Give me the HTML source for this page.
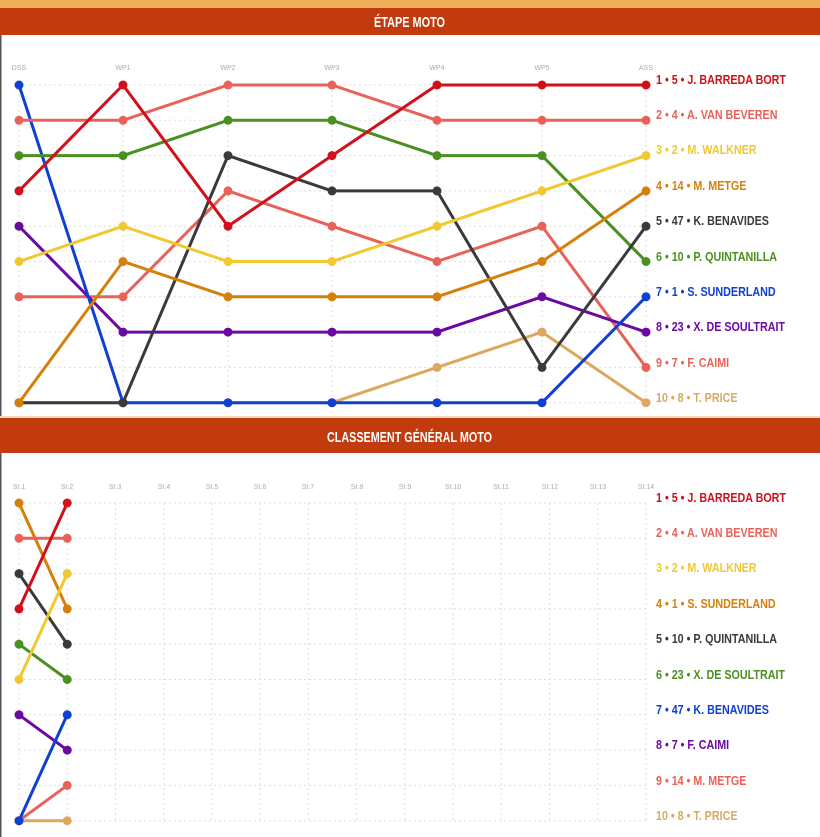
<!DOCTYPE html>
<html><head><meta charset="utf-8"><style>
body{margin:0;width:820px;height:837px;overflow:hidden;background:#fff;font-family:"Liberation Sans",sans-serif}
svg{position:absolute;left:0;top:0}
.h{font-family:"Liberation Sans",sans-serif;font-weight:bold;fill:#fff;font-size:15px}
.ax{font-size:7px;fill:#aaa}
.lb{font-size:12.5px;font-weight:bold}
</style></head><body>
<svg id="s" width="820" height="837" xmlns="http://www.w3.org/2000/svg">
<rect x="0" y="0" width="820" height="8" fill="#f0ae58"/>
<rect x="0" y="8" width="820" height="27" fill="#c13b0f"/>
<text class="h" x="374" y="27" textLength="71" lengthAdjust="spacingAndGlyphs">ÉTAPE MOTO</text>
<rect x="0" y="416" width="820" height="2" fill="#f0d8c0"/>
<rect x="0" y="418" width="820" height="35" fill="#c13b0f"/>
<text class="h" x="327" y="442" textLength="165" lengthAdjust="spacingAndGlyphs">CLASSEMENT GÉNÉRAL MOTO</text>
<rect x="0" y="35" width="1.5" height="381" fill="#555"/>
<rect x="0" y="453" width="1.5" height="384" fill="#555"/>
<g id="g1"></g><g id="g2"></g>
<g class="ax">
<text x="19" y="70" text-anchor="middle">DSS</text><text x="123" y="70" text-anchor="middle">WP1</text><text x="228" y="70" text-anchor="middle">WP2</text><text x="332" y="70" text-anchor="middle">WP3</text><text x="437" y="70" text-anchor="middle">WP4</text><text x="542" y="70" text-anchor="middle">WP5</text><text x="646" y="70" text-anchor="middle">ASS</text>
<text x="19" y="489" text-anchor="middle">St.1</text><text x="67" y="489" text-anchor="middle">St.2</text><text x="115" y="489" text-anchor="middle">St.3</text><text x="164" y="489" text-anchor="middle">St.4</text><text x="212" y="489" text-anchor="middle">St.5</text><text x="260" y="489" text-anchor="middle">St.6</text><text x="308" y="489" text-anchor="middle">St.7</text><text x="357" y="489" text-anchor="middle">St.8</text><text x="405" y="489" text-anchor="middle">St.9</text><text x="453" y="489" text-anchor="middle">St.10</text><text x="501" y="489" text-anchor="middle">St.11</text><text x="550" y="489" text-anchor="middle">St.12</text><text x="598" y="489" text-anchor="middle">St.13</text><text x="646" y="489" text-anchor="middle">St.14</text>
</g>
<g class="lb" transform="translate(656,0) scale(0.86,1)">
<text x="0" y="84" fill="#d0101a">1 • 5 • J. BARREDA BORT</text>
<text x="0" y="119" fill="#e8625a">2 • 4 • A. VAN BEVEREN</text>
<text x="0" y="154" fill="#f0c832">3 • 2 • M. WALKNER</text>
<text x="0" y="190" fill="#d4800a">4 • 14 • M. METGE</text>
<text x="0" y="225" fill="#3a3a3a">5 • 47 • K. BENAVIDES</text>
<text x="0" y="261" fill="#4a9020">6 • 10 • P. QUINTANILLA</text>
<text x="0" y="296" fill="#1040d0">7 • 1 • S. SUNDERLAND</text>
<text x="0" y="331" fill="#6a0aa0">8 • 23 • X. DE SOULTRAIT</text>
<text x="0" y="367" fill="#e8625a">9 • 7 • F. CAIMI</text>
<text x="0" y="402" fill="#dca860">10 • 8 • T. PRICE</text>
<text x="0" y="502" fill="#d0101a">1 • 5 • J. BARREDA BORT</text>
<text x="0" y="537" fill="#e8625a">2 • 4 • A. VAN BEVEREN</text>
<text x="0" y="572" fill="#f0c832">3 • 2 • M. WALKNER</text>
<text x="0" y="608" fill="#d4800a">4 • 1 • S. SUNDERLAND</text>
<text x="0" y="643" fill="#3a3a3a">5 • 10 • P. QUINTANILLA</text>
<text x="0" y="679" fill="#4a9020">6 • 23 • X. DE SOULTRAIT</text>
<text x="0" y="714" fill="#1040d0">7 • 47 • K. BENAVIDES</text>
<text x="0" y="749" fill="#6a0aa0">8 • 7 • F. CAIMI</text>
<text x="0" y="785" fill="#e8625a">9 • 14 • M. METGE</text>
<text x="0" y="820" fill="#dca860">10 • 8 • T. PRICE</text>
</g>
</svg>
<script>
var NS="http://www.w3.org/2000/svg";
function el(p,t,a){var e=document.createElementNS(NS,t);for(var k in a)e.setAttribute(k,a[k]);p.appendChild(e);return e;}
function chart(g,xs,y0,step,series){
 var grid={stroke:"#ddd","stroke-width":1,"stroke-dasharray":"2,3"};
 for(var r=0;r<10;r++){var y=y0+r*step;el(g,"line",Object.assign({x1:xs[0],x2:xs[xs.length-1],y1:y,y2:y},grid));}
 xs.forEach(function(x){el(g,"line",Object.assign({x1:x,x2:x,y1:y0,y2:y0+9*step},grid));});
 series.forEach(function(s){
  var pts=s[1].map(function(r,i){return xs[i]+","+(y0+(r-1)*step);}).join(" ");
  el(g,"polyline",{points:pts,fill:"none",stroke:s[0],"stroke-width":3,"stroke-linejoin":"round"});
  s[1].forEach(function(r,i){el(g,"circle",{cx:xs[i],cy:y0+(r-1)*step,r:4.5,fill:s[0]});});
 });
}
var x1=[19,123,228,332,437,542,646];
chart(document.getElementById("g1"),x1,85,35.3,[
["#dca860",[10,10,10,10,9,8,10]],
["#e8625a",[7,7,4,5,6,5,9]],
["#6a0aa0",[5,8,8,8,8,7,8]],
["#1040d0",[1,10,10,10,10,10,7]],
["#4a9020",[3,3,2,2,3,3,6]],
["#3a3a3a",[10,10,3,4,4,9,5]],
["#d4800a",[10,6,7,7,7,6,4]],
["#f0c832",[6,5,6,6,5,4,3]],
["#e8625a",[2,2,1,1,2,2,2]],
["#d0101a",[4,1,5,3,1,1,1]]]);
var x2=[];for(var i=0;i<14;i++)x2.push(19+i*48.23);
var g2=document.getElementById("g2");
var s2=[
["#dca860",[10,10]],["#e8625a",[10,9]],["#6a0aa0",[7,8]],["#1040d0",[10,7]],["#4a9020",[5,6]],
["#3a3a3a",[3,5]],["#d4800a",[1,4]],["#f0c832",[6,3]],["#e8625a",[2,2]],["#d0101a",[4,1]]];
chart(g2,x2,503,35.3,[]);
s2.forEach(function(s){var pts=s[1].map(function(r,i){return x2[i]+","+(503+(r-1)*35.3);}).join(" ");
 el(g2,"polyline",{points:pts,fill:"none",stroke:s[0],"stroke-width":3});
 s[1].forEach(function(r,i){el(g2,"circle",{cx:x2[i],cy:503+(r-1)*35.3,r:4.5,fill:s[0]});});});
</script>
</body></html>
